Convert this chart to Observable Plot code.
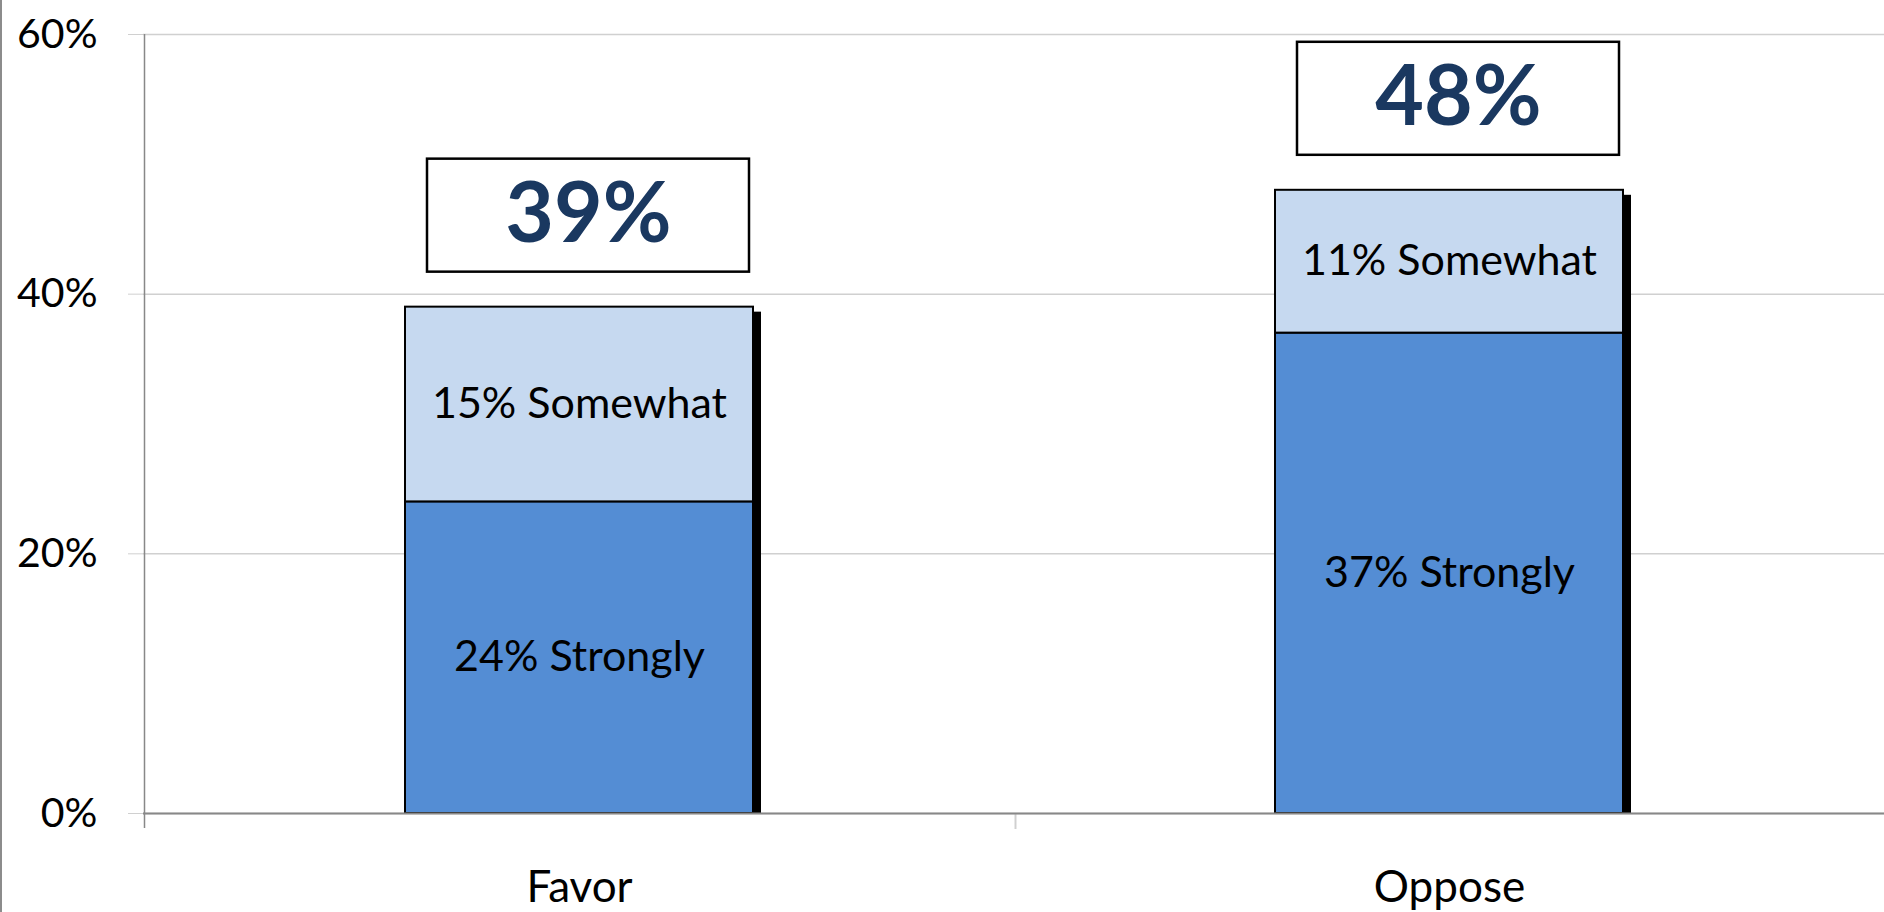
<!DOCTYPE html>
<html>
<head>
<meta charset="utf-8">
<script src="https://cdn.jsdelivr.net/npm/d3@7"></script>
<script src="https://cdn.jsdelivr.net/npm/@observablehq/plot@0.6"></script>
<style>
  html, body { margin: 0; padding: 0; background: #fff; }
  #wrap { position: relative; width: 1884px; height: 912px; }
  #wrap::before { content: ""; position: absolute; left: 0; top: 0; width: 2px; height: 912px; background: #8c8c8c; }
  svg { display: block; }
</style>
</head>
<body>
<div id="wrap"></div>
<script>
const categories = ["Favor", "Oppose"];
const seriesNames = ["Strongly", "Somewhat"];
const strongly = [24, 37];
const somewhat = [15, 11];
const totals = [39, 48];
const yTicks = [0, 20, 40, 60];
const colors = ["#548dd4", "#c6d9f0"];

const rows = [];
categories.forEach((c, i) => {
  rows.push({cat: c, series: "Strongly", value: strongly[i]});
  rows.push({cat: c, series: "Somewhat", value: somewhat[i]});
});
const totalRows = categories.map((c, i) => ({cat: c, total: totals[i]}));

const font = "Lato, 'Open Sans', sans-serif";

const chart = Plot.plot({
  width: 1884,
  height: 912,
  marginLeft: 143,
  marginRight: 0,
  marginTop: 34,
  marginBottom: 99,
  style: {fontFamily: font, color: "#000", background: "#fff"},
  x: {domain: categories, paddingInner: 0.6, paddingOuter: 0.3, label: null},
  y: {domain: [0, 60], label: null},
  color: {domain: seriesNames, range: colors},
  marks: [
    Plot.gridY(yTicks, {stroke: "#d0d0d0", strokeOpacity: 1, strokeWidth: 1.5}),
    Plot.axisY(yTicks, {tickFormat: d => d + "%", tickSize: 15, tickPadding: 31, fontSize: 41, stroke: "#d0d0d0", strokeOpacity: 1, label: null}),
    Plot.axisX({tickSize: 0, tickPadding: 57, fontSize: 44, label: null}),
    // y axis line
    Plot.ruleX(["Favor"], {dx: -435, y1: 60, y2: 0, insetBottom: -15, stroke: "#888", strokeWidth: 1.5}),
    // category separator tick
    Plot.ruleX(["Favor"], {dx: 436, y1: 0, y2: 0, insetBottom: -16, stroke: "#d0d0d0", strokeWidth: 2}),
    // shadows
    Plot.barY(totalRows, {x: "cat", y1: 0, y2: "total", fill: "#000", dx: 8, insetTop: 5}),
    Plot.barY(rows, Plot.stackY({x: "cat", y: "value", fill: "series", z: "series", stroke: "#000", strokeWidth: 2, order: seriesNames})),
    Plot.ruleY([0], {stroke: "#888", strokeWidth: 2}),
    Plot.text(rows, Plot.stackY({x: "cat", y: "value", z: "series", order: seriesNames, text: d => `${d.value}% ${d.series}`, fontSize: 43, fill: "#000"})),
    // total boxes
    Plot.barY(totalRows, {x: "cat", y1: "total", y2: "total", insetTop: -148, insetBottom: 35, insetLeft: 22, insetRight: 4, fill: "#fff", stroke: "#000", strokeWidth: 2.5}),
    Plot.text(totalRows, {x: "cat", y: "total", dx: 9, dy: -92, text: d => `${d.total}%`, fontSize: 84, fontWeight: "bold", fill: "#1a3860"})
  ]
});
document.getElementById("wrap").appendChild(chart);
</script>
</body>
</html>
